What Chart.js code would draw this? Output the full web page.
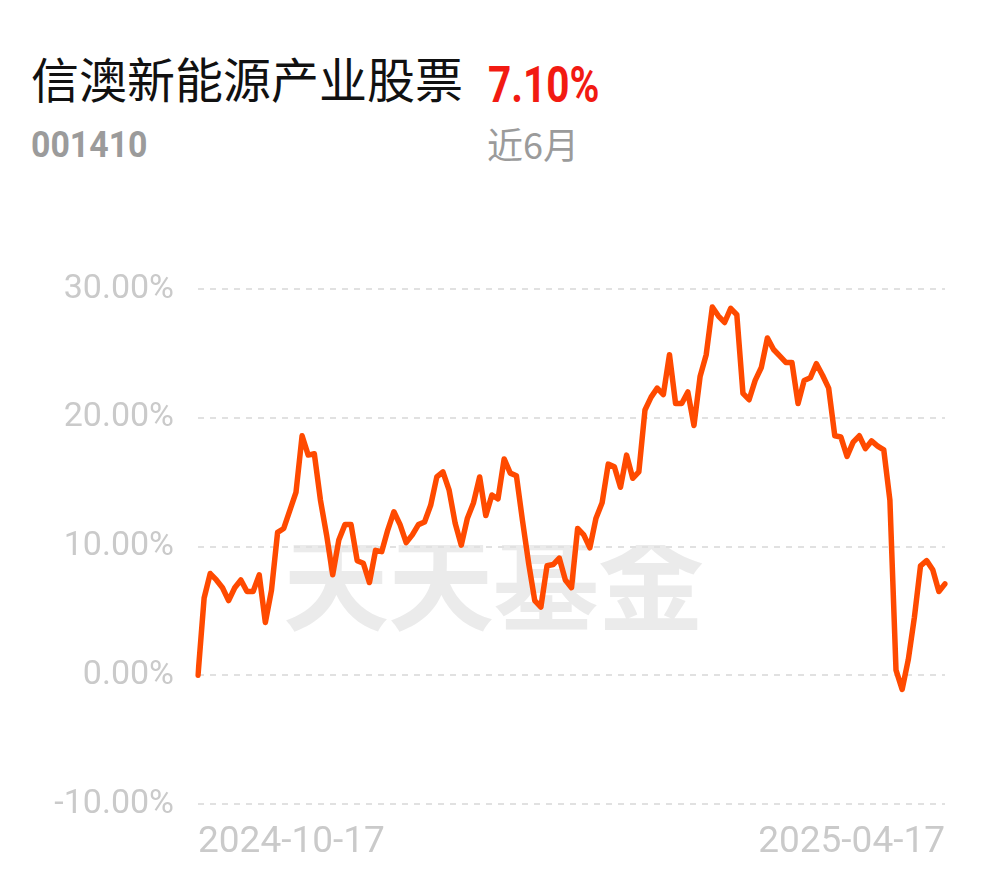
<!DOCTYPE html>
<html>
<head>
<meta charset="utf-8">
<script src="https://cdn.jsdelivr.net/npm/chart.js@4"></script>
<style>
  html, body { margin: 0; padding: 0; background: #fff; }
  body { width: 990px; height: 878px; position: relative; overflow: hidden; font-family: Roboto, "Noto Sans CJK SC", sans-serif; }
  .fund-name { position: absolute; left: 31px; top: 53px; font: 48px/1 "Noto Sans CJK SC", sans-serif; color: #111; white-space: nowrap; }
  .fund-rate { position: absolute; left: 488px; top: 60px; font: bold 50px/1 Roboto, sans-serif; color: #f21a12; transform: scaleX(0.81); transform-origin: 0 0; }
  .fund-code { position: absolute; left: 31px; top: 127px; font: bold 36px/1 Roboto, sans-serif; color: #9b9b9b; transform: scaleX(0.94); transform-origin: 0 0; }
  .fund-range { position: absolute; left: 487px; top: 125px; font: 36px/1 "Noto Sans CJK SC", sans-serif; color: #9b9b9b; }
  .watermark { position: absolute; left: 283px; top: 545px; width: 430px; height: 92px; overflow: hidden; }
  .watermark span { position: absolute; left: 0; top: -22px; font: bold 106px/1 "Noto Sans CJK SC", sans-serif; color: #ebebeb; letter-spacing: -1px; white-space: nowrap; }
  #chart { position: absolute; left: 0; top: 0; }
</style>
</head>
<body>
<div class="watermark"><span>天天基金</span></div>
<div class="fund-name">信澳新能源产业股票</div>
<div class="fund-rate">7.10%</div>
<div class="fund-code">001410</div>
<div class="fund-range">近6月</div>
<canvas id="chart" width="990" height="878"></canvas>

<script>
// 近6月 收益率走势 (%)
var returns = [
  0, 6.0, 7.9, 7.4, 6.8, 5.8, 6.8, 7.4, 6.5, 6.5,
  7.8, 4.1, 6.6, 11.1, 11.4, 12.8, 14.2, 18.6, 17.1, 17.2,
  13.6, 10.9, 7.8, 10.5, 11.7, 11.7, 8.9, 8.7, 7.2, 9.7,
  9.6, 11.3, 12.7, 11.7, 10.3, 10.9, 11.7, 11.9, 13.2, 15.4,
  15.8, 14.4, 11.8, 10.1, 12.2, 13.4, 15.4, 12.4, 14.0, 13.7,
  16.8, 15.7, 15.5, 12.0, 8.7, 5.8, 5.3, 8.5, 8.6, 9.1,
  7.4, 6.8, 11.4, 10.9, 9.9, 12.2, 13.4, 16.4, 16.2, 14.6,
  17.1, 15.3, 15.8, 20.6, 21.6, 22.3, 21.8, 24.9, 21.1, 21.1,
  22.0, 19.4, 23.2, 24.9, 28.6, 27.9, 27.4, 28.5, 28.0, 21.9,
  21.4, 22.9, 23.9, 26.2, 25.3, 24.8, 24.3, 24.3, 21.1, 22.9,
  23.1, 24.2, 23.3, 22.3, 18.6, 18.5, 17.0, 18.1, 18.6, 17.6,
  18.2, 17.8, 17.5, 13.6, 0.4, -1.1, 1.2, 4.5, 8.5, 8.9,
  8.2, 6.5, 7.1
];
var dateTicks = ["2024-10-17", "2025-04-17"];
var yTicks = [-10, 0, 10, 20, 30];

var lineColor = "#ff4a00";
var labelColor = "#cacaca";

var days = [];
for (var i = 0; i < returns.length; i++) days.push(i);

var ctx = document.getElementById("chart").getContext("2d");
new Chart(ctx, {
  type: "line",
  data: {
    labels: days,
    datasets: [{
      data: returns,
      borderColor: lineColor,
      borderWidth: 5.5,
      pointRadius: 0,
      tension: 0,
      fill: false,
      borderJoinStyle: "round",
      borderCapStyle: "round"
    }]
  },
  options: {
    responsive: false,
    animation: false,
    layout: { padding: { top: 289, right: 45, bottom: 0, left: 0 } },
    plugins: { legend: { display: false }, tooltip: { enabled: false } },
    scales: {
      x: {
        grid: { display: false, drawTicks: false },
        border: { display: false },
        afterFit: function (scale) { scale.height = 74; },
        ticks: {
          autoSkip: false,
          maxRotation: 0,
          align: "inner",
          padding: 17,
          color: labelColor,
          font: { family: "Roboto", size: 37 },
          callback: function (v, i) {
            if (i === 0) return dateTicks[0];
            if (i === returns.length - 1) return dateTicks[1];
            return "";
          }
        }
      },
      y: {
        min: yTicks[0],
        max: yTicks[yTicks.length - 1],
        afterFit: function (scale) { scale.width = 198; },
        afterBuildTicks: function (scale) {
          scale.ticks = yTicks.map(function (v) { return { value: v }; });
        },
        border: { display: false, dash: [6, 6] },
        grid: { color: "#e1e1e1", lineWidth: 2, drawTicks: false },
        ticks: {
          padding: 24,
          color: labelColor,
          font: { family: "Roboto", size: 34 },
          callback: function (v) { return v.toFixed(2) + "%"; }
        }
      }
    }
  }
});
</script>
</body>
</html>
